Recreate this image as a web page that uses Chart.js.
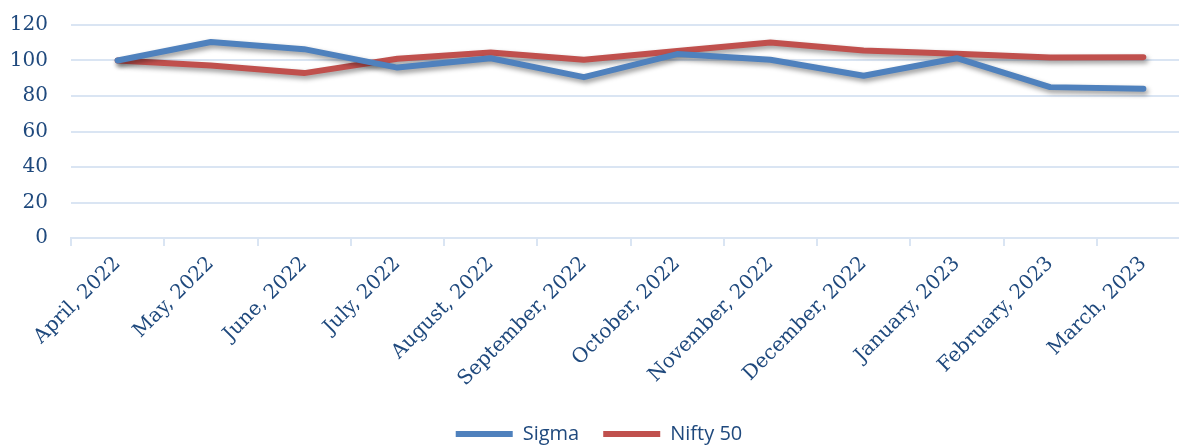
<!DOCTYPE html>
<html>
<head>
<meta charset="utf-8">
<script src="https://cdn.jsdelivr.net/npm/chart.js@4"></script>
<style>
  html, body { margin: 0; padding: 0; background: #fff; overflow: hidden; }
  #wrap { width: 1200px; height: 454px; }
</style>
</head>
<body>
<div id="wrap"><canvas id="myChart"></canvas></div>
<script>
// Datos
const months = ['April, 2022', 'May, 2022', 'June, 2022', 'July, 2022', 'August, 2022',
  'September, 2022', 'October, 2022', 'November, 2022', 'December, 2022',
  'January, 2023', 'February, 2023', 'March, 2023'];
const sigma = [100, 110.4, 106.4, 96, 101.3, 90.6, 103.6, 100.4, 91.4, 101.3, 85, 84.1];
const nifty = [100, 97.2, 92.9, 101, 104.5, 100.4, 105.3, 110.1, 105.6, 103.8, 101.7, 101.9];
const yTicks = [0, 20, 40, 60, 80, 100, 120];

const textColor = '#1F497D';
const gridColor = '#DAE5F3';

// sombra debajo de las líneas
const shadowPlugin = {
  id: 'shadow',
  beforeDatasetsDraw(chart) {
    const c = chart.ctx;
    c.save();
    c.shadowColor = 'rgba(0,0,0,0.4)';
    c.shadowBlur = 5;
    c.shadowOffsetX = 2;
    c.shadowOffsetY = 3;
  },
  afterDatasetsDraw(chart) {
    chart.ctx.restore();
  }
};

const ctx = document.getElementById('myChart').getContext('2d');
new Chart(ctx, {
  type: 'line',
  data: {
    labels: months,
    datasets: [
      { label: 'Sigma', data: sigma, borderColor: '#4F81BD', backgroundColor: '#4F81BD',
        borderWidth: 6, pointRadius: 0, tension: 0, borderCapStyle: 'round', borderJoinStyle: 'round' },
      { label: 'Nifty 50', data: nifty, borderColor: '#C0504D', backgroundColor: '#C0504D',
        borderWidth: 6, pointRadius: 0, tension: 0, borderCapStyle: 'round', borderJoinStyle: 'round' }
    ]
  },
  options: {
    responsive: true,
    maintainAspectRatio: false,
    animation: false,
    layout: { padding: { top: 25, right: 10, left: 8, bottom: 0 } },
    plugins: {
      tooltip: { enabled: false },
      legend: {
        position: 'bottom',
        labels: {
          boxWidth: 57,
          boxHeight: 6,
          padding: 24,
          color: textColor,
          font: { family: 'Open Sans', size: 20 },
          generateLabels(chart) {
            return Chart.defaults.plugins.legend.labels.generateLabels(chart).map(it => {
              it.lineWidth = 0;
              return it;
            });
          }
        }
      }
    },
    scales: {
      x: {
        offset: true,
        afterFit(scale) { scale.height = 162; },
        grid: { offset: true, drawOnChartArea: false, drawTicks: true, tickLength: 8, color: gridColor, lineWidth: 2 },
        border: { display: true, color: gridColor, width: 2 },
        ticks: {
          autoSkip: false, minRotation: 45, maxRotation: 45, padding: 6,
          color: textColor, font: { family: 'DejaVu Serif', size: 20 }
        }
      },
      y: {
        min: 0, max: 120,
        afterFit(scale) {
          scale.width = 63;
          scale.paddingTop = 0;
          scale.paddingBottom = 0;
        },
        afterBuildTicks(scale) { scale.ticks = yTicks.map(v => ({ value: v })); },
        grid: { drawTicks: false, color: gridColor, lineWidth: 2 },
        border: { display: false },
        ticks: { padding: 23, color: textColor, font: { family: 'DejaVu Serif', size: 20 } }
      }
    }
  },
  plugins: [shadowPlugin]
});
</script>
</body>
</html>
